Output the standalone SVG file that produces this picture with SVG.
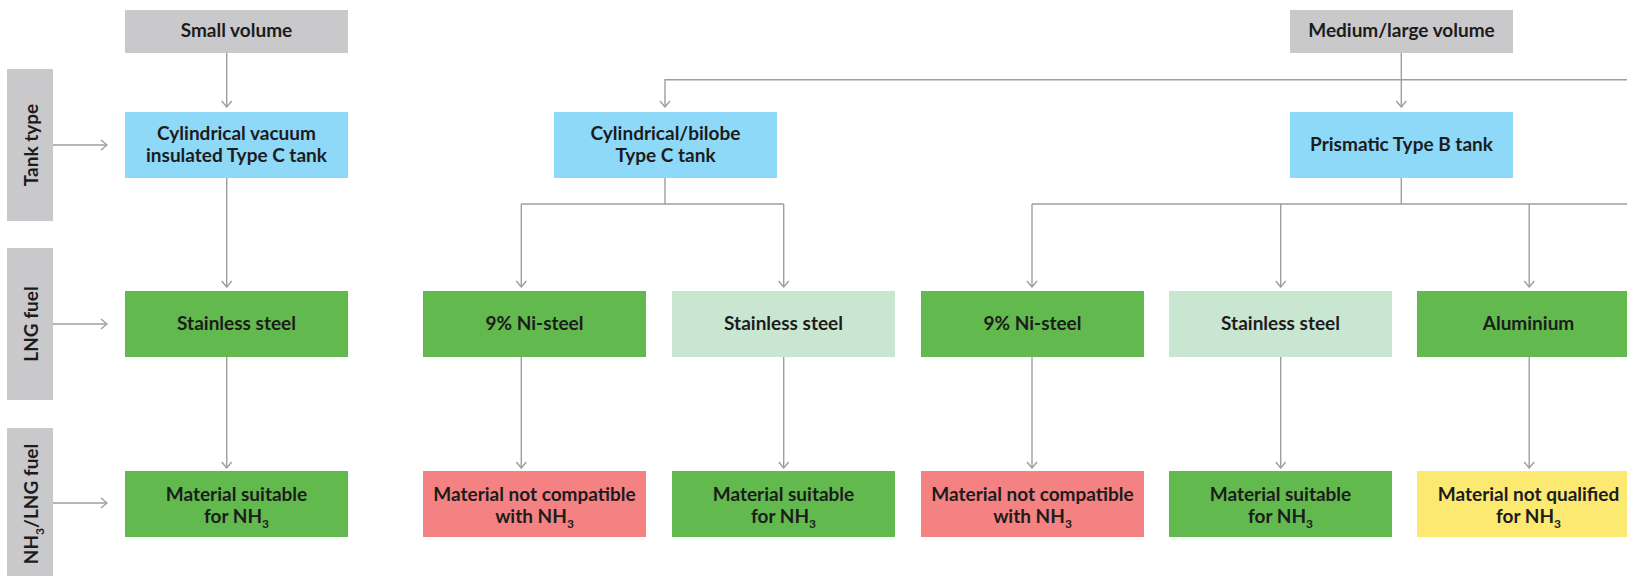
<svg xmlns="http://www.w3.org/2000/svg" width="1627" height="576" viewBox="0 0 1627 576">
  <style>
    .t { font-family: Lato, "Liberation Sans", sans-serif; font-weight: 700; font-size: 19px; fill: #1c1c1c; text-anchor: middle; }
    .sub { font-size: 12px; }
    .lbl { fill: #c9c9cb; }
    .gray { fill: #c9c9cb; }
    .blue { fill: #8ed8f8; }
    .green { fill: #62b94e; }
    .lgreen { fill: #c9e6d1; }
    .red { fill: #f48282; }
    .yellow { fill: #fbe972; }
    .ln { fill: none; stroke: #a39d98; stroke-width: 1.4; }
  </style>
  <defs>
    <marker id="ah" viewBox="0 0 12 12" refX="11" refY="6" markerWidth="12" markerHeight="12" markerUnits="userSpaceOnUse" orient="auto">
      <path d="M5,1 L11,6 L5,11" fill="none" stroke="#a39d98" stroke-width="1.4"/>
    </marker>
  </defs>
  <rect width="1627" height="576" fill="#ffffff"/>

  <g id="row-labels">
    <g id="label-tank">
      <rect class="lbl" x="7" y="69" width="46" height="152"/>
      <text class="t" transform="translate(37.5,145) rotate(-90)">Tank type</text>
    </g>
    <g id="label-lng">
      <rect class="lbl" x="7" y="248" width="46" height="152"/>
      <text class="t" transform="translate(37.5,324) rotate(-90)">LNG fuel</text>
    </g>
    <g id="label-nh3">
      <rect class="lbl" x="7" y="428" width="46" height="148"/>
      <text class="t" transform="translate(37.5,504) rotate(-90)">NH<tspan class="sub" dy="6">3</tspan><tspan dy="-6">/LNG fuel</tspan></text>
    </g>
  </g>

  <g id="connectors">
    <path class="ln" marker-end="url(#ah)" d="M53,145 H107"/>
    <path class="ln" marker-end="url(#ah)" d="M53,324 H107"/>
    <path class="ln" marker-end="url(#ah)" d="M53,503 H107"/>
    <path class="ln" marker-end="url(#ah)" d="M226.7,53 V107"/>
    <path class="ln" marker-end="url(#ah)" d="M226.7,178 V287"/>
    <path class="ln" marker-end="url(#ah)" d="M226.7,357 V468"/>
    <path class="ln" marker-end="url(#ah)" d="M1401.3,53 V107"/>
    <path class="ln" marker-end="url(#ah)" d="M1627,79.7 H665 V107"/>
    <path class="ln" d="M665,178 V204 M521.3,204 H783.7"/>
    <path class="ln" marker-end="url(#ah)" d="M521.3,204 V287"/>
    <path class="ln" marker-end="url(#ah)" d="M783.7,204 V287"/>
    <path class="ln" d="M1401.3,178 V204 M1032,204 H1627"/>
    <path class="ln" marker-end="url(#ah)" d="M1032,204 V287"/>
    <path class="ln" marker-end="url(#ah)" d="M1280.7,204 V287"/>
    <path class="ln" marker-end="url(#ah)" d="M1529.2,204 V287"/>
    <path class="ln" marker-end="url(#ah)" d="M521.3,357 V468"/>
    <path class="ln" marker-end="url(#ah)" d="M783.7,357 V468"/>
    <path class="ln" marker-end="url(#ah)" d="M1032,357 V468"/>
    <path class="ln" marker-end="url(#ah)" d="M1280.7,357 V468"/>
    <path class="ln" marker-end="url(#ah)" d="M1529.2,357 V468"/>
  </g>

  <g id="small-volume">
    <rect class="gray" x="125" y="10" width="223" height="43"/>
    <text class="t" x="236.5" y="37">Small volume</text>
  </g>
  <g id="medium-large-volume">
    <rect class="gray" x="1290" y="10" width="223" height="43"/>
    <text class="t" x="1401.5" y="37">Medium/large volume</text>
  </g>

  <g id="tank-vacuum">
    <rect class="blue" x="125" y="112" width="223" height="66"/>
    <text class="t" x="236.5" y="139.5">Cylindrical vacuum</text>
    <text class="t" x="236.5" y="161.5">insulated Type C tank</text>
  </g>
  <g id="tank-bilobe">
    <rect class="blue" x="554" y="112" width="223" height="66"/>
    <text class="t" x="665.5" y="139.5">Cylindrical/bilobe</text>
    <text class="t" x="665.5" y="161.5">Type C tank</text>
  </g>
  <g id="tank-prismatic">
    <rect class="blue" x="1290" y="112" width="223" height="66"/>
    <text class="t" x="1401.5" y="151">Prismatic Type B tank</text>
  </g>

  <g id="lng-1">
    <rect class="green" x="125" y="291" width="223" height="66"/>
    <text class="t" x="236.5" y="329.5">Stainless steel</text>
  </g>
  <g id="lng-2">
    <rect class="green" x="423" y="291" width="223" height="66"/>
    <text class="t" x="534.5" y="329.5">9% Ni-steel</text>
  </g>
  <g id="lng-3">
    <rect class="lgreen" x="672" y="291" width="223" height="66"/>
    <text class="t" x="783.5" y="329.5">Stainless steel</text>
  </g>
  <g id="lng-4">
    <rect class="green" x="921" y="291" width="223" height="66"/>
    <text class="t" x="1032.5" y="329.5">9% Ni-steel</text>
  </g>
  <g id="lng-5">
    <rect class="lgreen" x="1169" y="291" width="223" height="66"/>
    <text class="t" x="1280.5" y="329.5">Stainless steel</text>
  </g>
  <g id="lng-6">
    <rect class="green" x="1417" y="291" width="223" height="66"/>
    <text class="t" x="1528.5" y="329.5">Aluminium</text>
  </g>

  <g id="nh3-1">
    <rect class="green" x="125" y="471" width="223" height="66"/>
    <text class="t" x="236.5" y="501">Material suitable</text>
    <text class="t" x="236.5" y="523">for NH<tspan class="sub" dy="5">3</tspan></text>
  </g>
  <g id="nh3-2">
    <rect class="red" x="423" y="471" width="223" height="66"/>
    <text class="t" x="534.5" y="501">Material not compatible</text>
    <text class="t" x="534.5" y="523">with NH<tspan class="sub" dy="5">3</tspan></text>
  </g>
  <g id="nh3-3">
    <rect class="green" x="672" y="471" width="223" height="66"/>
    <text class="t" x="783.5" y="501">Material suitable</text>
    <text class="t" x="783.5" y="523">for NH<tspan class="sub" dy="5">3</tspan></text>
  </g>
  <g id="nh3-4">
    <rect class="red" x="921" y="471" width="223" height="66"/>
    <text class="t" x="1032.5" y="501">Material not compatible</text>
    <text class="t" x="1032.5" y="523">with NH<tspan class="sub" dy="5">3</tspan></text>
  </g>
  <g id="nh3-5">
    <rect class="green" x="1169" y="471" width="223" height="66"/>
    <text class="t" x="1280.5" y="501">Material suitable</text>
    <text class="t" x="1280.5" y="523">for NH<tspan class="sub" dy="5">3</tspan></text>
  </g>
  <g id="nh3-6">
    <rect class="yellow" x="1417" y="471" width="223" height="66"/>
    <text class="t" x="1528.5" y="501">Material not qualified</text>
    <text class="t" x="1528.5" y="523">for NH<tspan class="sub" dy="5">3</tspan></text>
  </g>
</svg>
